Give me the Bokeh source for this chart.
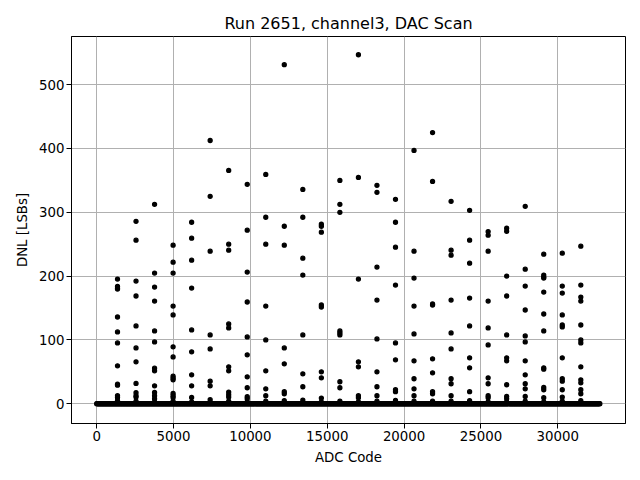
import numpy as np
from bokeh.plotting import figure
from bokeh.models import Range1d, ColumnDataSource, FixedTicker
from bokeh.embed import file_html
from bokeh.resources import INLINE

TITLE = "Run 2651, channel3, DAC Scan"
X_LABEL = "ADC Code"
Y_LABEL = "DNL [LSBs]"
x_ticks = [0, 5000, 10000, 15000, 20000, 25000, 30000]
y_ticks = [0, 100, 200, 300, 400, 500]

# ADC codes 0..32767, all with DNL ~ 0 except the spike columns below
n_codes = 32768
baseline_step = 32

# codes of the columns with large DNL
spike_codes = [1355, 2560, 3766, 4972, 6178, 7383, 8589, 9795, 11001, 12206,
               13412, 14618, 15823, 17029, 18235, 19441, 20646, 21852, 23058,
               24263, 25469, 26675, 27881, 29086, 30292, 31498]

col01 = [195.3, 183.9, 181.3, 179.7, 135.9, 112.5, 95.3, 59.4, 30.7, 29.0, 12.5, 9.9, 5.0, 2.0]
col02 = [285.9, 256.3, 192.2, 168.8, 121.9, 87.5, 65.6, 31.8, 17.2, 12.5, 10.4, 4.0]
col03 = [312.5, 204.7, 182.8, 160.9, 114.1, 96.9, 55.7, 51.6, 28.1, 17.7, 12.5, 7.8, 3.0]
col04 = [248.4, 221.9, 204.7, 153.1, 139.1, 89.1, 73.4, 43.2, 40.1, 37.5, 16.1, 12.5, 9.9, 4.0]
col05 = [284.4, 259.4, 225.0, 181.3, 115.6, 81.3, 45.3, 28.1, 9.9, 3.0]
col06 = [412.5, 325.0, 239.1, 107.8, 85.9, 35.4, 28.1, 6.3, 2.0]
col07 = [365.6, 250.0, 240.6, 125.0, 118.8, 57.8, 51.6, 18.2, 14.1, 10.4, 4.0]
col08 = [343.8, 271.9, 206.3, 159.4, 104.7, 76.6, 42.2, 25.0, 10.9, 7.8, 3.0]
col09 = [359.4, 292.2, 250.0, 153.1, 100.0, 51.6, 23.4, 12.5, 4.0]
col10 = [531.3, 278.1, 248.4, 87.5, 62.5, 18.8, 15.6, 5.0]
col11 = [335.9, 292.2, 228.1, 201.6, 107.8, 46.9, 26.6, 5.7, 2.0]
col12 = [281.3, 278.1, 268.8, 154.7, 151.6, 50.0, 40.6, 8.9, 3.0]
col13 = [350.0, 312.5, 300.0, 114.1, 110.9, 107.8, 34.4, 25.0, 4.2]
col14 = [546.9, 354.7, 195.3, 65.6, 57.8, 12.5, 9.4, 3.0]
col15 = [342.2, 331.3, 214.1, 162.5, 101.6, 50.0, 26.6, 12.5, 4.0]
col16 = [320.3, 284.4, 245.3, 185.9, 95.3, 68.8, 21.9, 18.8, 5.2]
col17 = [396.9, 239.1, 196.9, 153.1, 109.4, 67.2, 39.1, 23.4, 12.5, 4.0]
col18 = [425.0, 348.4, 156.3, 154.7, 70.3, 48.4, 18.8, 15.6, 4.0]
col19 = [317.2, 240.6, 232.8, 162.5, 110.9, 85.9, 39.1, 31.3, 12.5, 4.0]
col20 = [303.1, 256.3, 220.3, 165.6, 121.9, 71.9, 56.3, 18.8, 5.0]
col21 = [269.8, 264.1, 239.1, 160.9, 118.8, 92.2, 40.6, 31.3, 12.5, 9.4, 3.0]
col22 = [275.0, 270.3, 200.0, 168.8, 107.8, 71.9, 67.2, 29.7, 11.5, 7.8, 3.0]
col23 = [309.4, 210.9, 184.4, 146.9, 106.3, 96.9, 67.2, 45.3, 31.3, 23.4, 11.5, 4.0]
col24 = [234.4, 201.6, 198.4, 196.9, 175.0, 140.6, 114.1, 56.3, 54.2, 25.5, 21.9, 9.4, 3.0]
col25 = [235.9, 184.4, 173.4, 139.1, 123.4, 120.3, 71.9, 39.1, 35.4, 21.9, 10.4, 4.0]
col26 = [246.9, 185.9, 167.2, 160.9, 123.4, 100.0, 95.3, 57.8, 37.5, 32.8, 21.9, 15.6, 5.0]

columns = [col01, col02, col03, col04, col05, col06, col07, col08, col09, col10,
           col11, col12, col13, col14, col15, col16, col17, col18, col19, col20,
           col21, col22, col23, col24, col25, col26]

# build points
base_x = np.arange(0, n_codes, baseline_step)
base_y = np.zeros_like(base_x, dtype=float)
sx, sy = [], []
for code, vals in zip(spike_codes, columns):
    for v in vals:
        sx.append(code)
        sy.append(v)
xs = np.concatenate([base_x.astype(float), np.array(sx, dtype=float)])
ys = np.concatenate([base_y, np.array(sy, dtype=float)])
src = ColumnDataSource(dict(x=xs, y=ys))

FONT = "DejaVu Sans"

p = figure(width=632, height=472, output_backend="svg", toolbar_location=None,
           x_range=Range1d(-1638, 34405), y_range=Range1d(-31, 575.5),
           title=TITLE,
           min_border_left=71, min_border_right=7, min_border_top=36, min_border_bottom=49)

p.scatter("x", "y", source=src, size=4.0, fill_color="black", line_color="black", line_width=1.3)

p.title.align = "center"
p.title.text_font = FONT
p.title.text_font_size = "16px"
p.title.text_font_style = "normal"
p.title.text_color = "black"
p.title.standoff = 7

p.xaxis.ticker = FixedTicker(ticks=x_ticks)
p.yaxis.ticker = FixedTicker(ticks=y_ticks)
p.xaxis.axis_label = X_LABEL
p.yaxis.axis_label = Y_LABEL
for ax in (p.xaxis, p.yaxis):
    ax.major_label_text_font = FONT
    ax.major_label_text_font_size = "13.33px"
    ax.major_label_text_color = "black"
    ax.axis_label_text_font = FONT
    ax.axis_label_text_font_size = "13.33px"
    ax.axis_label_text_font_style = "normal"
    ax.axis_label_text_color = "black"
    ax.axis_label_standoff = 6
    ax.major_label_standoff = 2
    ax.minor_tick_line_color = None
    ax.major_tick_in = 0
    ax.major_tick_out = 5
    ax.major_tick_line_color = "black"
    ax.major_tick_line_width = 1
    ax.axis_line_color = "black"
    ax.axis_line_width = 1

p.outline_line_color = "black"
p.outline_line_width = 1
p.outline_line_alpha = 1
p.grid.grid_line_color = "#b0b0b0"
p.grid.grid_line_width = 1
p.background_fill_color = "white"
p.border_fill_color = "white"

open("out.html", "w").write(file_html(p, INLINE))
